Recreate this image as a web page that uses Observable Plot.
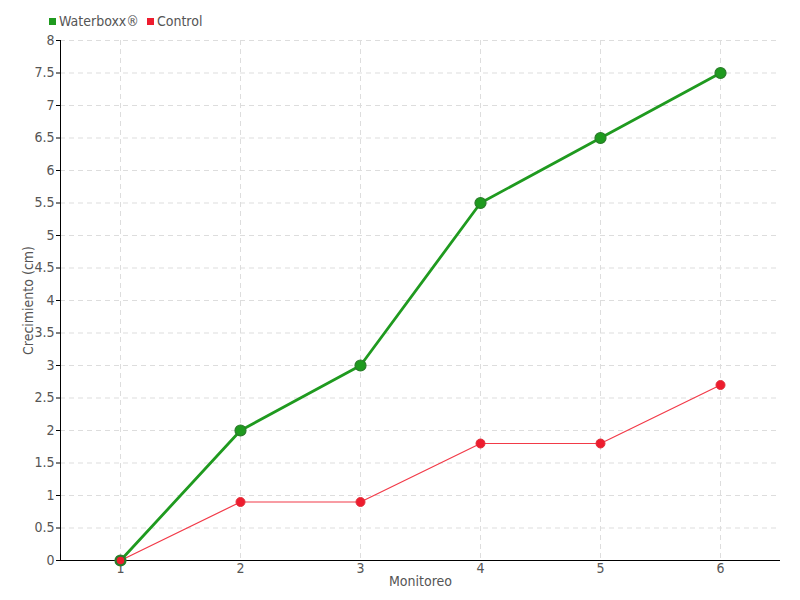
<!DOCTYPE html>
<html>
<head>
<meta charset="utf-8">
<script src="https://cdn.jsdelivr.net/npm/d3@7"></script>
<script src="https://cdn.jsdelivr.net/npm/@observablehq/plot@0.6"></script>
<style>
  body { margin: 0; background: #fff; }
  #wrap { position: relative; width: 800px; height: 600px; font-family: "DejaVu Sans Condensed", sans-serif; }
  #legend { position: absolute; top: 13px; left: 49px; font-size: 14px; color: #555; display: flex; gap: 8px; }
  #legend span.sw { display: inline-block; width: 7px; height: 7px; margin-right: 3px; vertical-align: 1px; }
</style>
</head>
<body>
<div id="wrap"><div id="legend"></div></div>
<script>
const monitoreo = [1, 2, 3, 4, 5, 6];
const waterboxx = [0, 2, 3, 5.5, 6.5, 7.5];
const control = [0, 0.9, 0.9, 1.8, 1.8, 2.7];
const seriesNames = ["Waterboxx®", "Control"];
const seriesColors = ["#1f9a1f", "#ee1c2e"];
const yTicks = [0, 0.5, 1, 1.5, 2, 2.5, 3, 3.5, 4, 4.5, 5, 5.5, 6, 6.5, 7, 7.5, 8];

const dataW = monitoreo.map((m, i) => ({x: m, y: waterboxx[i]}));
const dataC = monitoreo.map((m, i) => ({x: m, y: control[i]}));

const legend = document.getElementById("legend");
seriesNames.forEach((n, i) => {
  const s = document.createElement("span");
  s.innerHTML = `<span class="sw" style="background:${seriesColors[i]}"></span>${n}`;
  legend.appendChild(s);
});

const chart = Plot.plot({
  width: 800,
  height: 600,
  marginLeft: 60,
  marginRight: 20,
  marginTop: 40,
  marginBottom: 40,
  style: {fontFamily: "DejaVu Sans Condensed, sans-serif", fontSize: "14px", color: "#555", background: "white"},
  x: {domain: [0.5, 6.5]},
  y: {domain: [0, 8]},
  marks: [
    Plot.gridY(yTicks, {stroke: "#ddd", strokeOpacity: 1, strokeDasharray: "5,4"}),
    Plot.gridX(monitoreo, {stroke: "#ddd", strokeOpacity: 1, strokeDasharray: "5,4"}),
    Plot.ruleY([0], {stroke: "#000"}),
    Plot.ruleX([0.5], {stroke: "#000"}),
    Plot.axisY(yTicks, {tickSize: 4, tickPadding: 2, stroke: "#000", fill: "#555", label: "Crecimiento (cm)", labelAnchor: "center", labelArrow: "none", labelOffset: 37, tickFormat: d => String(d)}),
    Plot.axisX(monitoreo, {tickSize: 0, tickPadding: 3, fill: "#555", label: "Monitoreo", labelAnchor: "center", labelArrow: "none", labelOffset: 25, tickFormat: d => String(d)}),
    Plot.line(dataC, {x: "x", y: "y", stroke: "#f23a48", strokeWidth: 1.2}),
    Plot.dot(dataC, {x: "x", y: "y", r: 4.5, fill: seriesColors[1], stroke: "#e0303a", strokeWidth: 1}),
    Plot.line(dataW, {x: "x", y: "y", stroke: "#1f9a1f", strokeWidth: 2.8}),
    Plot.dot(dataW, {x: "x", y: "y", r: 5.5, fill: "#1e9a1e", stroke: "#2a7a2a", strokeWidth: 1.2}),
    Plot.dot(dataC.slice(0, 1), {x: "x", y: "y", r: 4.5, fill: seriesColors[1], stroke: "#2a7a2a", strokeWidth: 1.5})
  ]
});
document.getElementById("wrap").prepend(chart);
</script>
</body>
</html>
